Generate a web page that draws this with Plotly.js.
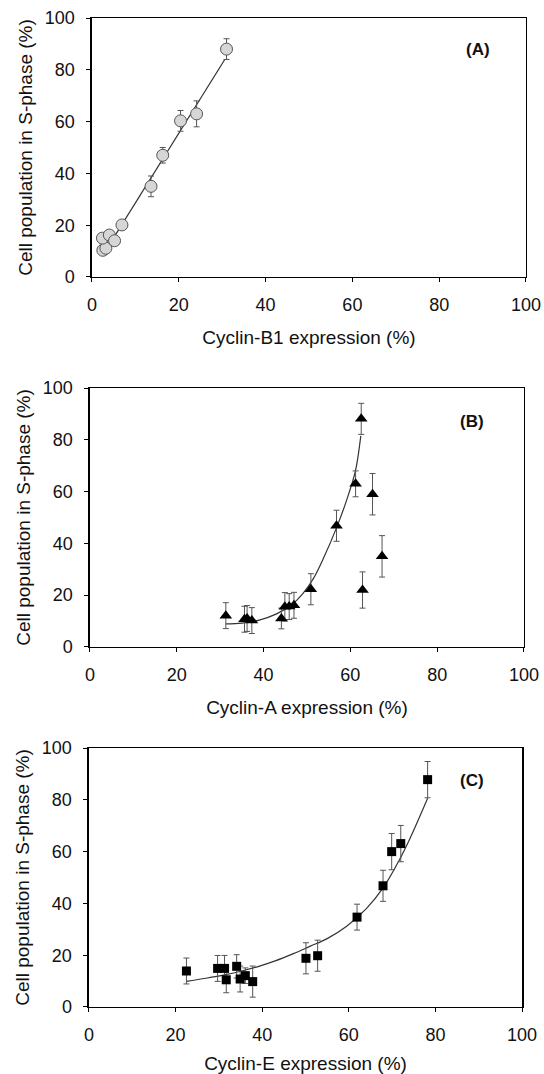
<!DOCTYPE html>
<html>
<head>
<meta charset="utf-8">
<script src="https://cdn.plot.ly/plotly-3.0.1.min.js"></script>
<style>html,body{margin:0;padding:0;background:#fff;}#chart{width:544px;height:1074px;}</style>
</head>
<body>
<div id="chart"></div>
<script>
// Panel A: Cyclin-B1
const xA = [2.5, 3.2, 2.4, 4.0, 5.2, 6.9, 13.6, 16.3, 20.4, 24.1, 31.0];
const yA = [10.3, 11.1, 15.0, 16.2, 14.0, 20.1, 35.0, 47.0, 60.3, 63.0, 88.0];
const eA = [1, 1, 1, 1, 1, 1.5, 4, 3, 4, 5, 4];
const fitAx = [3.0, 30.6];
const fitAy = [9.8, 84.0];

// Panel B: Cyclin-A
const xB = [31.3, 35.6, 36.2, 37.3, 44.1, 44.9, 45.9, 47.0, 50.9, 56.8, 61.2, 62.5, 65.1, 62.8, 67.3];
const yB = [12.1, 10.7, 11.0, 10.2, 11.0, 15.5, 15.6, 16.1, 22.3, 46.8, 63.0, 88.1, 59.0, 22.0, 35.0];
const eB = [5, 5, 5, 5, 4, 5.5, 5, 5, 6, 6, 5, 6, 8, 7, 8];
const fitBx = [31.3, 35, 39, 43, 46.5, 49, 51.5, 54, 56.8, 59.1, 61.1, 61.8, 62.4];
const fitBy = [8.9, 9.2, 10.4, 12.8, 16.3, 20.5, 26.5, 35, 46, 56.5, 67.5, 74, 81.5];

// Panel C: Cyclin-E
const xC = [22.5, 29.7, 31.3, 31.7, 34.1, 34.9, 36.1, 37.8, 50.1, 52.8, 61.9, 67.9, 69.9, 72.0, 78.2];
const yC = [13.9, 14.9, 14.9, 10.5, 15.7, 10.8, 12.1, 9.8, 18.8, 19.8, 34.7, 46.8, 60.0, 63.1, 87.8];
const eC = [5, 5, 5, 5, 4.5, 5, 3, 6, 6, 6, 5, 6, 7, 7, 7];
const fitCx = [22.5, 27, 31.3, 35, 39.2, 43, 47.2, 51, 54.9, 59.5, 64.1, 68, 71.1, 74.1, 78.2];
const fitCy = [9.9, 11.1, 12.4, 13.8, 15.7, 17.8, 20.6, 23.4, 26.3, 31.2, 38.1, 46.2, 55, 65, 80.6];

const xTitles = ['Cyclin-B1 expression (%)', 'Cyclin-A expression (%)', 'Cyclin-E expression (%)'];
const yTitle = 'Cell population in S-phase (%)';
const panelLabels = ['(A)', '(B)', '(C)'];

const FONT = 'Liberation Sans, Arial, sans-serif';
const errStyle = {type: 'data', visible: true, color: '#555', thickness: 1, width: 3};

function fitTrace(x, y, xa, ya) {
  return {x: x, y: y, xaxis: xa, yaxis: ya, mode: 'lines', type: 'scatter',
    line: {color: '#333', width: 1.2, shape: 'spline'}, hoverinfo: 'skip'};
}
function ptTrace(x, y, e, xa, ya, marker) {
  return {x: x, y: y, xaxis: xa, yaxis: ya, mode: 'markers', type: 'scatter',
    error_y: Object.assign({array: e}, errStyle), marker: marker};
}

const data = [
  fitTrace(fitAx, fitAy, 'x', 'y'),
  ptTrace(xA, yA, eA, 'x', 'y', {symbol: 'circle', size: 12, color: '#d6d6d6', line: {color: '#555', width: 1}}),
  fitTrace(fitBx, fitBy, 'x2', 'y2'),
  ptTrace(xB, yB, eB, 'x2', 'y2', {symbol: 'triangle-up', size: 11, color: '#000'}),
  fitTrace(fitCx, fitCy, 'x3', 'y3'),
  ptTrace(xC, yC, eC, 'x3', 'y3', {symbol: 'square', size: 9, color: '#000'})
];

function xax(dom, anchor, title) {
  return {domain: dom, anchor: anchor, range: [0, 100], dtick: 20, tick0: 0,
    ticks: 'outside', ticklen: 4, tickwidth: 1, tickcolor: '#000',
    showline: true, mirror: true, linecolor: '#000', linewidth: 1.5,
    showgrid: false, zeroline: false, ticklabelstandoff: 7,
    tickfont: {family: FONT, size: 18, color: '#111'},
    title: {text: title, font: {family: FONT, size: 19, color: '#111'}, standoff: 16}};
}
function yax(dom, anchor) {
  return {domain: dom, anchor: anchor, range: [0, 100], dtick: 20, tick0: 0,
    ticks: 'outside', ticklen: 4, tickwidth: 1, tickcolor: '#000',
    showline: true, mirror: true, linecolor: '#000', linewidth: 1.5,
    showgrid: false, zeroline: false, ticklabelstandoff: 8,
    tickfont: {family: FONT, size: 18, color: '#111'},
    title: {text: yTitle, font: {family: FONT, size: 19, color: '#111'}, standoff: 7}};
}

const layout = {
  width: 544, height: 1074,
  margin: {l: 0, r: 0, t: 0, b: 0},
  paper_bgcolor: '#fff', plot_bgcolor: '#fff',
  showlegend: false,
  xaxis: xax([0.1691, 0.9669], 'y', xTitles[0]),
  yaxis: yax([0.7421, 0.9832], 'x'),
  xaxis2: xax([0.1654, 0.9632], 'y2', xTitles[1]),
  yaxis2: yax([0.3976, 0.6387], 'x2'),
  xaxis3: xax([0.1636, 0.9596], 'y3', xTitles[2]),
  yaxis3: yax([0.0624, 0.3035], 'x3'),
  annotations: [
    {xref: 'x', yref: 'y', x: 89, y: 88, text: '<b>' + panelLabels[0] + '</b>', showarrow: false, font: {family: FONT, size: 17, color: '#111'}},
    {xref: 'x2', yref: 'y2', x: 88, y: 87, text: '<b>' + panelLabels[1] + '</b>', showarrow: false, font: {family: FONT, size: 17, color: '#111'}},
    {xref: 'x3', yref: 'y3', x: 88.5, y: 87.5, text: '<b>' + panelLabels[2] + '</b>', showarrow: false, font: {family: FONT, size: 17, color: '#111'}}
  ]
};

Plotly.newPlot('chart', data, layout, {staticPlot: true, displayModeBar: false});
</script>
</body>
</html>
